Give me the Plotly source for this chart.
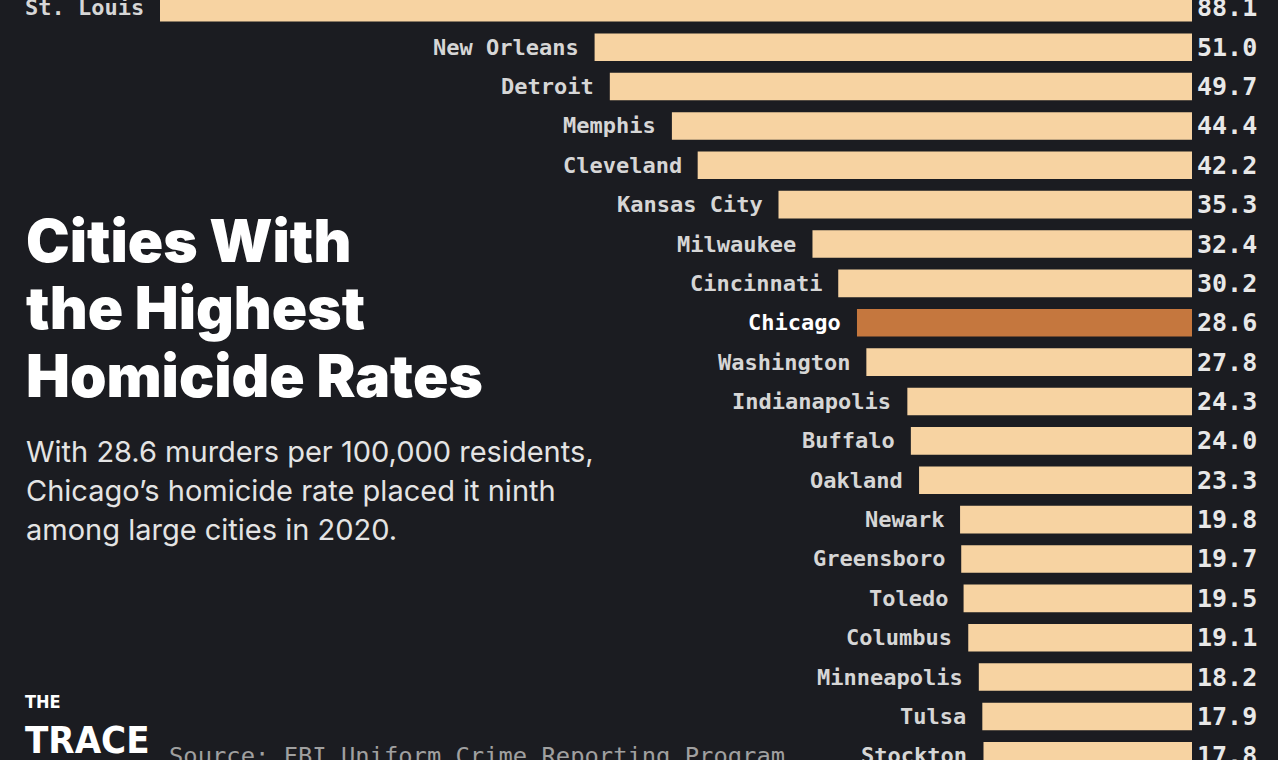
import plotly.graph_objects as go

cities = ["St. Louis", "New Orleans", "Detroit", "Memphis", "Cleveland", "Kansas City",
          "Milwaukee", "Cincinnati", "Chicago", "Washington", "Indianapolis", "Buffalo",
          "Oakland", "Newark", "Greensboro", "Toledo", "Columbus", "Minneapolis", "Tulsa", "Stockton"]
rates = [88.1, 51.0, 49.7, 44.4, 42.2, 35.3, 32.4, 30.2, 28.6, 27.8, 24.3, 24.0,
         23.3, 19.8, 19.7, 19.5, 19.1, 18.2, 17.9, 17.8]
highlight = "Chicago"

title_lines = ["Cities With", "the Highest", "Homicide Rates"]
subtitle_lines = ["With 28.6 murders per 100,000 residents,",
                  "Chicago\u2019s homicide rate placed it ninth",
                  "among large cities in 2020."]
source_text = "Source: FBI Uniform Crime Reporting Program"

W, H = 1278, 760
BG = "#1b1c21"
BAR = "#f7d3a2"
HI = "#c5773e"
MONO = "DejaVu Sans Mono, Liberation Mono, monospace"
SANS = "Inter, Roboto, Liberation Sans, sans-serif"
COND = "Liberation Sans Narrow, DejaVu Sans Condensed, Roboto, sans-serif"

colors = [HI if c == highlight else BAR for c in cities]

fig = go.Figure(go.Bar(
    x=rates, y=cities, orientation="h", base=0,
    marker=dict(color=colors, line=dict(width=0)),
    hoverinfo="skip",
))

def py(p):
    return 1 - p / H

annotations = []
for c, v in zip(cities, rates):
    hi = c == highlight
    annotations.append(dict(
        x=v, y=c, xref="x", yref="y", text=f"<b>{c}</b>", showarrow=False,
        xanchor="right", yanchor="middle", xshift=-14,
        font=dict(family=MONO, size=22, color="#ffffff" if hi else "#d6d6d6")))
    annotations.append(dict(
        x=0, y=c, xref="x", yref="y", text=f"<b>{v:.1f}</b>", showarrow=False,
        xanchor="left", yanchor="middle", xshift=3,
        font=dict(family=MONO, size=25, color="#e8e8e8")))

for i, t in enumerate(title_lines):
    annotations.append(dict(
        x=27 / W, y=py(240 + 67.5 * i), xref="paper", yref="paper", text=t,
        showarrow=False, xanchor="left", yanchor="middle", xshift=-3,
        font=dict(family=SANS, size=58.5, color="#ffffff", weight=900)))

for i, t in enumerate(subtitle_lines):
    annotations.append(dict(
        x=27 / W, y=py(451 + 39 * i), xref="paper", yref="paper", text=t,
        showarrow=False, xanchor="left", yanchor="middle", xshift=-3,
        font=dict(family=SANS, size=29, color="#e4e4e4")))

annotations.append(dict(
    x=170 / W, y=py(756), xref="paper", yref="paper", text=source_text,
    showarrow=False, xanchor="left", yanchor="middle", xshift=-3,
    font=dict(family=MONO, size=23.8, color="#a0a0a0")))

annotations.append(dict(
    x=26 / W, y=py(701), xref="paper", yref="paper", text="<b>THE</b>",
    showarrow=False, xanchor="left", yanchor="middle", xshift=-3,
    font=dict(family=COND, size=18, color="#ffffff")))
annotations.append(dict(
    x=26 / W, y=py(740), xref="paper", yref="paper", text="<b>TRACE</b>",
    showarrow=False, xanchor="left", yanchor="middle", xshift=-3,
    font=dict(family=COND, size=38, color="#ffffff")))

px_per_unit = (1192 - 160) / 88.1
x_left = 1192 / px_per_unit
x_right = -(W - 1192) / px_per_unit
pitch = 39.37
top_c = 7.8

fig.update_layout(
    width=W, height=H,
    margin=dict(l=0, r=0, t=0, b=0),
    paper_bgcolor=BG, plot_bgcolor=BG,
    bargap=0.3,
    showlegend=False,
    xaxis=dict(range=[x_left, x_right], visible=False, fixedrange=True),
    yaxis=dict(type="category", categoryorder="array", categoryarray=cities,
               range=[(H - top_c) / pitch, -top_c / pitch], visible=False, fixedrange=True),
    annotations=annotations,
)

fig.write_html(
    "out.html",
    config={"displayModeBar": False},
    post_script="document.body.style.margin='0';document.body.style.overflow='hidden';"
                "document.body.style.background='#1b1c21';",
)
